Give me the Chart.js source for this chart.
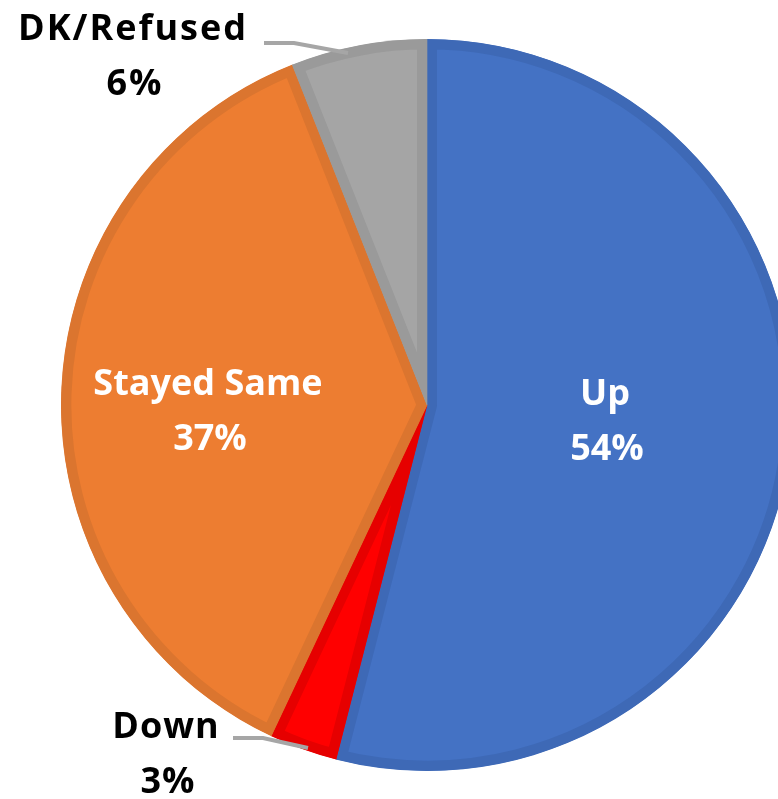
<!DOCTYPE html>
<html>
<head>
<meta charset="utf-8">
<script src="https://cdn.jsdelivr.net/npm/chart.js@4"></script>
<style>
  html, body { margin: 0; padding: 0; background: #fff; overflow: hidden; }
  #wrap { width: 778px; height: 799px; position: relative; }
</style>
</head>
<body>
<div id="wrap"><canvas id="pie" width="778" height="799"></canvas></div>
<script>
const labels = ['Up', 'Down', 'Stayed Same', 'DK/Refused'];
const values = [54, 3, 37, 6];
const fills = ['#4472C4', '#FF0000', '#ED7D31', '#A5A5A5'];
const edges = ['#3E69B6', '#E60000', '#DB752F', '#9A9A9A'];

// where each label sits (text only), colour, and optional leader line
const labelSpots = [
  { x: 605, y: 405, color: '#fff', gap: 0 },
  { x: 166, y: 738, color: '#000', gap: 1, line: [[233, 738], [263, 738], [308, 748]] },
  { x: 208, y: 395, color: '#fff', gap: 0 },
  { x: 133, y: 40, color: '#000', gap: 2, line: [[264, 43], [294, 43], [348, 53]] }
];

const pieLabels = {
  id: 'pieLabels',
  afterDatasetsDraw(chart) {
    const c = chart.ctx;
    c.save();
    labelSpots.forEach((s, i) => {
      if (s.line) {
        c.strokeStyle = '#A6A6A6';
        c.lineWidth = 4;
        c.beginPath();
        c.moveTo(s.line[0][0], s.line[0][1]);
        for (let k = 1; k < s.line.length; k++) c.lineTo(s.line[k][0], s.line[k][1]);
        c.stroke();
      }
      c.fillStyle = s.color;
      c.font = 'bold 36px "Open Sans"';
      c.letterSpacing = s.gap + 'px';
      c.textAlign = 'center';
      c.textBaseline = 'alphabetic';
      c.fillText(labels[i], s.x, s.y);
      c.fillText(values[i] + '%', s.x + 2, s.y + 55);
    });
    c.restore();
  }
};

new Chart(document.getElementById('pie'), {
  type: 'pie',
  data: {
    labels: labels,
    datasets: [{
      data: values,
      backgroundColor: fills,
      borderColor: edges,
      borderWidth: 10,
      borderAlign: 'inner'
    }]
  },
  options: {
    responsive: false,
    animation: false,
    radius: 366,
    layout: { padding: { left: 76, top: 11, right: 0, bottom: 0 } },
    plugins: {
      legend: { display: false },
      tooltip: { enabled: false }
    }
  },
  plugins: [pieLabels]
});
</script>
</body>
</html>
